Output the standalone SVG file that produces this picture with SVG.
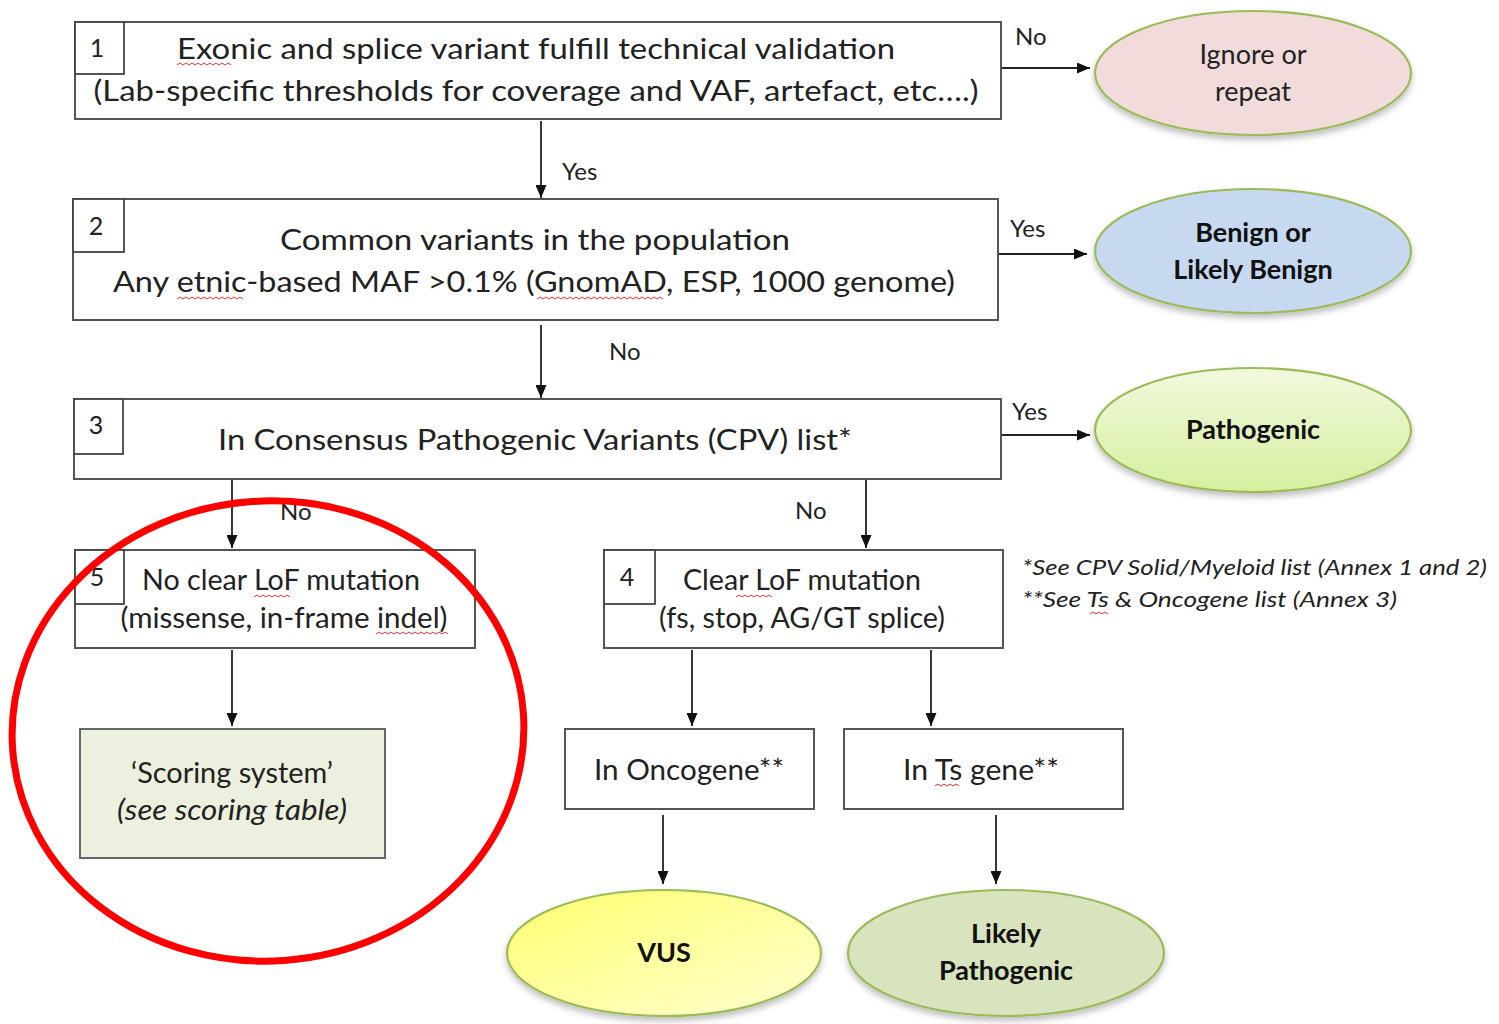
<svg xmlns="http://www.w3.org/2000/svg" width="1499" height="1024" viewBox="0 0 1499 1024">
<style>
  .box { fill: #ffffff; stroke: #555555; stroke-width: 2; }
  .num { fill: #ffffff; stroke: #444444; stroke-width: 1.8; }
  .t { font-family: Lato, "Liberation Sans", sans-serif; fill: #222222; }
  .main { font-size: 28px; }
  .numt { font-size: 25px; }
  .lbl { font-size: 24px; }
  .ell { stroke: #9bbb59; stroke-width: 2.2; }
  .et { font-size: 27px; }
  .eb { font-size: 27px; font-weight: bold; fill: #111111; }
  .fn { font-size: 22px; font-style: italic; }
  .conn { stroke: #222222; stroke-width: 1.8; fill: none; marker-end: url(#arr); }
  .sq { stroke: #e03030; stroke-width: 1; fill: none; }
</style>
<defs>
  <marker id="arr" viewBox="0 0 13 11" refX="13" refY="5.5" markerWidth="13" markerHeight="11" orient="auto" markerUnits="userSpaceOnUse">
    <path d="M0,0 L13,5.5 L0,11 z" fill="#111111"/>
  </marker>
  <linearGradient id="gPath" x1="0" y1="0" x2="0" y2="1">
    <stop offset="0" stop-color="#f1f9de"/>
    <stop offset="1" stop-color="#d6ef9f"/>
  </linearGradient>
  <linearGradient id="gVus" x1="0" y1="0" x2="1" y2="1">
    <stop offset="0" stop-color="#ffff70"/>
    <stop offset="1" stop-color="#ffffd0"/>
  </linearGradient>
  <filter id="sh" x="-10%" y="-10%" width="120%" height="130%">
    <feDropShadow dx="0" dy="4" stdDeviation="3" flood-color="#000000" flood-opacity="0.25"/>
  </filter>
</defs>

<rect x="0" y="0" width="1499" height="1024" fill="#ffffff"/>

<g id="connectors">
  <line class="conn" x1="541" y1="121" x2="541" y2="198"/>
  <line class="conn" x1="541" y1="325" x2="541" y2="398"/>
  <line class="conn" x1="1001" y1="68" x2="1090" y2="68"/>
  <line class="conn" x1="998" y1="254" x2="1087" y2="254"/>
  <line class="conn" x1="1001" y1="435" x2="1090" y2="435"/>
  <line class="conn" x1="232" y1="479" x2="232" y2="548"/>
  <line class="conn" x1="866" y1="479" x2="866" y2="548"/>
  <line class="conn" x1="232" y1="650" x2="232" y2="726"/>
  <line class="conn" x1="692" y1="650" x2="692" y2="726"/>
  <line class="conn" x1="931" y1="650" x2="931" y2="726"/>
  <line class="conn" x1="663" y1="815" x2="663" y2="884"/>
  <line class="conn" x1="996" y1="815" x2="996" y2="884"/>
  <text class="t lbl" x="562" y="180">Yes</text>
  <text class="t lbl" x="609" y="360">No</text>
  <text class="t lbl" x="1015" y="45">No</text>
  <text class="t lbl" x="1010" y="237">Yes</text>
  <text class="t lbl" x="1012" y="420">Yes</text>
  <text class="t lbl" x="280" y="520">No</text>
  <text class="t lbl" x="795" y="519">No</text>
</g>

<g id="node1">
  <rect class="box" x="75" y="22" width="926" height="97"/>
  <rect class="num" x="75" y="22" width="49" height="52"/>
  <text class="t numt" x="97" y="57" text-anchor="middle">1</text>
  <text class="t main" x="536" y="59" text-anchor="middle" textLength="718" lengthAdjust="spacingAndGlyphs">Exonic and splice variant fulfill technical validation</text>
  <text class="t main" x="536" y="101" text-anchor="middle" textLength="885" lengthAdjust="spacingAndGlyphs">(Lab-specific thresholds for coverage and VAF, artefact, etc….)</text>
  <path class="sq" d="M177,65 l3,-2 l3,2 l3,-2 l3,2 l3,-2 l3,2 l3,-2 l3,2 l3,-2 l3,2 l3,-2 l3,2 l3,-2 l3,2 l3,-2 l3,2 l3,-2 l3,2"/>
</g>

<g id="node2">
  <rect class="box" x="73" y="199" width="925" height="121"/>
  <rect class="num" x="73" y="199" width="51" height="53"/>
  <text class="t numt" x="96" y="235" text-anchor="middle">2</text>
  <text class="t main" x="535" y="250" text-anchor="middle" textLength="510" lengthAdjust="spacingAndGlyphs">Common variants in the population</text>
  <text class="t main" x="534" y="292" text-anchor="middle" textLength="842" lengthAdjust="spacingAndGlyphs">Any etnic-based MAF &gt;0.1% (GnomAD, ESP, 1000 genome)</text>
  <path class="sq" d="M177,299 l3,-2 l3,2 l3,-2 l3,2 l3,-2 l3,2 l3,-2 l3,2 l3,-2 l3,2 l3,-2 l3,2 l3,-2 l3,2 l3,-2 l3,2 l3,-2 l3,2 l3,-2 l3,2 l3,-2 l3,2"/>
  <path class="sq" d="M537,299 l3,-2 l3,2 l3,-2 l3,2 l3,-2 l3,2 l3,-2 l3,2 l3,-2 l3,2 l3,-2 l3,2 l3,-2 l3,2 l3,-2 l3,2 l3,-2 l3,2 l3,-2 l3,2 l3,-2 l3,2 l3,-2 l3,2 l3,-2 l3,2 l3,-2 l3,2 l3,-2 l3,2 l3,-2 l3,2 l3,-2 l3,2 l3,-2 l3,2 l3,-2 l3,2 l3,-2 l3,2 l3,-2 l3,2"/>
</g>

<g id="node3">
  <rect class="box" x="74" y="399" width="927" height="80"/>
  <rect class="num" x="74" y="399" width="49" height="55"/>
  <text class="t numt" x="96" y="434" text-anchor="middle">3</text>
  <text class="t main" x="535" y="450" text-anchor="middle" textLength="634" lengthAdjust="spacingAndGlyphs">In Consensus Pathogenic Variants (CPV) list*</text>
</g>

<g id="node-ignore">
  <ellipse class="ell" cx="1253" cy="73" rx="158" ry="62" fill="#f2dcdb" filter="url(#sh)"/>
  <text class="t et" x="1253" y="64" text-anchor="middle">Ignore or</text>
  <text class="t et" x="1253" y="101" text-anchor="middle">repeat</text>
</g>

<g id="node-benign">
  <ellipse class="ell" cx="1253" cy="251" rx="158" ry="62" fill="#c6d9f1" filter="url(#sh)"/>
  <text class="t eb" x="1253" y="242" text-anchor="middle">Benign or</text>
  <text class="t eb" x="1253" y="279" text-anchor="middle">Likely Benign</text>
</g>

<g id="node-pathogenic">
  <ellipse class="ell" cx="1253" cy="430" rx="158" ry="62" fill="url(#gPath)" filter="url(#sh)"/>
  <text class="t eb" x="1253" y="439" text-anchor="middle">Pathogenic</text>
</g>

<g id="node5">
  <rect class="box" x="75" y="550" width="400" height="98"/>
  <rect class="num" x="75" y="550" width="49" height="54"/>
  <text class="t numt" x="97" y="586" text-anchor="middle">5</text>
  <text class="t main" x="281" y="590" text-anchor="middle" textLength="278" lengthAdjust="spacingAndGlyphs">No clear LoF mutation</text>
  <text class="t main" x="284" y="628" text-anchor="middle" textLength="327" lengthAdjust="spacingAndGlyphs">(missense, in-frame indel)</text>
  <path class="sq" d="M254,597 l3,-2 l3,2 l3,-2 l3,2 l3,-2 l3,2 l3,-2 l3,2 l3,-2 l3,2 l3,-2 l3,2"/>
  <path class="sq" d="M376,634 l3,-2 l3,2 l3,-2 l3,2 l3,-2 l3,2 l3,-2 l3,2 l3,-2 l3,2 l3,-2 l3,2 l3,-2 l3,2 l3,-2 l3,2 l3,-2 l3,2 l3,-2 l3,2 l3,-2 l3,2 l3,-2 l3,2"/>
</g>

<g id="node-scoring">
  <rect x="80" y="729" width="305" height="129" fill="#ebf1de" stroke="#666666" stroke-width="2"/>
  <text class="t main" x="232" y="783" text-anchor="middle" textLength="202" lengthAdjust="spacingAndGlyphs">‘Scoring system’</text>
  <text class="t main" x="232" y="820" text-anchor="middle" font-style="italic" textLength="230" lengthAdjust="spacingAndGlyphs">(see scoring table)</text>
</g>

<g id="node4">
  <rect class="box" x="604" y="550" width="399" height="98"/>
  <rect class="num" x="604" y="550" width="51" height="54"/>
  <text class="t numt" x="627" y="586" text-anchor="middle">4</text>
  <text class="t main" x="802" y="590" text-anchor="middle" textLength="238" lengthAdjust="spacingAndGlyphs">Clear LoF mutation</text>
  <text class="t main" x="802" y="628" text-anchor="middle" textLength="286" lengthAdjust="spacingAndGlyphs">(fs, stop, AG/GT splice)</text>
  <path class="sq" d="M736,597 l3,-2 l3,2 l3,-2 l3,2 l3,-2 l3,2 l3,-2 l3,2 l3,-2 l3,2 l3,-2 l3,2"/>
</g>

<g id="node-oncogene">
  <rect class="box" x="565" y="729" width="249" height="80"/>
  <text class="t main" x="689" y="780" text-anchor="middle" textLength="190" lengthAdjust="spacingAndGlyphs">In Oncogene**</text>
</g>

<g id="node-ts">
  <rect class="box" x="844" y="729" width="279" height="80"/>
  <text class="t main" x="981" y="780" text-anchor="middle" textLength="156" lengthAdjust="spacingAndGlyphs">In Ts gene**</text>
  <path class="sq" d="M935,786 l3,-2 l3,2 l3,-2 l3,2 l3,-2 l3,2 l3,-2 l3,2"/>
</g>

<g id="node-vus">
  <ellipse class="ell" cx="664" cy="953" rx="157" ry="63" fill="url(#gVus)" filter="url(#sh)"/>
  <text class="t eb" x="664" y="962" text-anchor="middle">VUS</text>
</g>

<g id="node-likely-pathogenic">
  <ellipse class="ell" cx="1006" cy="953" rx="158" ry="63" fill="#d7e4bd" filter="url(#sh)"/>
  <text class="t eb" x="1006" y="943" text-anchor="middle">Likely</text>
  <text class="t eb" x="1006" y="980" text-anchor="middle">Pathogenic</text>
</g>

<g id="footnotes">
  <text class="t fn" x="1022" y="575" textLength="465" lengthAdjust="spacingAndGlyphs">*See CPV Solid/Myeloid list (Annex 1 and 2)</text>
  <text class="t fn" x="1022" y="607" textLength="375" lengthAdjust="spacingAndGlyphs">**See Ts &amp; Oncogene list (Annex 3)</text>
  <path class="sq" d="M1090,614 l3,-2 l3,2 l3,-2 l3,2 l3,-2 l3,2"/>
</g>

<g id="highlight">
  <ellipse cx="268" cy="731" rx="256" ry="230" fill="none" stroke="#ff0000" stroke-width="7" transform="rotate(-4 268 731)"/>
</g>
</svg>
